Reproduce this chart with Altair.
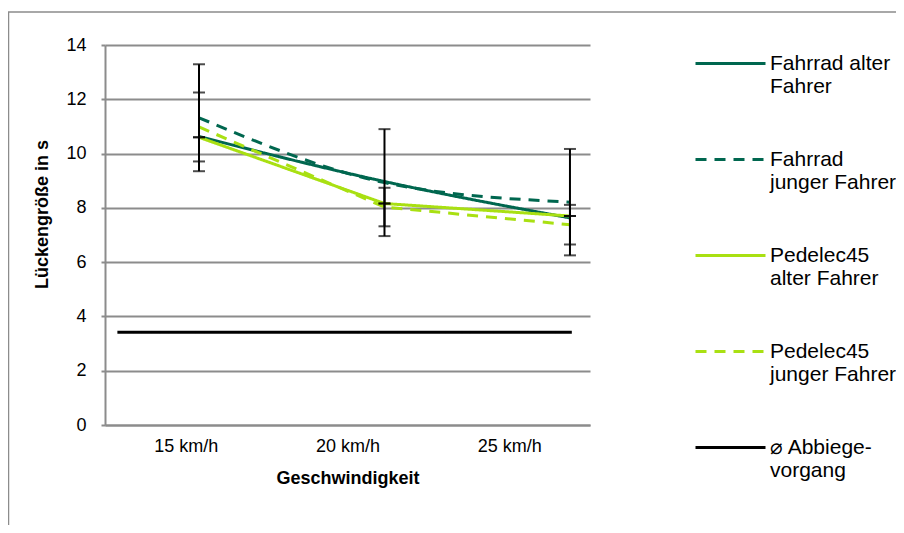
import altair as alt
import pandas as pd

# ---------------- data ----------------
speeds = [15, 20, 25]
speed_labels = ["15 km/h", "20 km/h", "25 km/h"]
series = [
    "Fahrrad alter|Fahrer",
    "Fahrrad|junger Fahrer",
    "Pedelec45|alter Fahrer",
    "Pedelec45|junger Fahrer",
    "⌀ Abbiege-|vorgang",
]
fahrrad_alt = [10.63, 8.97, 7.63]
fahrrad_jung = [11.32, 8.93, 8.21]
pedelec_alt = [10.60, 8.16, 7.70]
pedelec_jung = [10.98, 8.03, 7.38]
err_fahrrad_jung = [1.97, 1.97, 1.96]
err_pedelec_alt = [0.0, 0.0, 0.0]
err_pedelec_jung = [1.27, 0.71, 0.73]
abbiege_speed = [12.8, 25.05]
abbiege_value = [3.42, 3.42]

# ---------------- styles ----------------
DARK = "#00674F"
LIGHT = "#A9E012"
GRID = "#8c8c8c"
FONT = "Liberation Sans"
x_domain = [12.466, 25.54]
YT = "Lückengröße in s"

rows = []
for name, vals in zip(series[:4], [fahrrad_alt, fahrrad_jung, pedelec_alt, pedelec_jung]):
    for s, v in zip(speeds, vals):
        rows.append({"series": name, "speed": s, "value": v})
for s, v in zip(abbiege_speed, abbiege_value):
    rows.append({"series": series[4], "speed": s, "value": v})
lines = pd.DataFrame(rows)

err_rows = []
for name, vals, es in [
    (series[1], fahrrad_jung, err_fahrrad_jung),
    (series[2], pedelec_alt, err_pedelec_alt),
    (series[3], pedelec_jung, err_pedelec_jung),
]:
    for s, v, e in zip(speeds, vals, es):
        err_rows.append({"series": name, "speed": s, "low": v - e, "high": v + e})
errs = pd.DataFrame(err_rows)
caps = pd.concat([
    errs[["speed", "low"]].rename(columns={"low": "value"}),
    errs[["speed", "high"]].rename(columns={"high": "value"}),
])

yscale = alt.Scale(domain=[0, 14], nice=False, zero=True)
yaxis = alt.Axis(values=[0, 2, 4, 6, 8, 10, 12, 14], grid=True, tickSize=4,
                 labelPadding=15, titlePadding=14, titleY=169)
xq = alt.X("speed:Q", scale=alt.Scale(domain=x_domain, nice=False, zero=False), axis=None)

leg = alt.Legend(
    title=None, orient="none", legendX=589, legendY=-18,
    symbolType="stroke", symbolSize=4900, symbolStrokeWidth=3,
    labelFontSize=21, labelFont=FONT, labelColor="black", labelOffset=3,
    labelLimit=240, rowPadding=26, padding=0,
    labelExpr="split(datum.label, '|')", labelBaseline="middle",
)
color = alt.Color("series:N", scale=alt.Scale(domain=series, range=[DARK, DARK, LIGHT, LIGHT, "black"]), legend=leg)
dash = alt.StrokeDash("series:N", scale=alt.Scale(domain=series, range=[[1, 0], [11, 8], [1, 0], [11, 8], [1, 0]]), legend=leg)

base_y = alt.Y("value:Q", scale=yscale, axis=yaxis, title=YT)

fahrrad = alt.Chart(lines[lines.series.isin(series[:2])]).mark_line(
    strokeWidth=3, interpolate="monotone"
).encode(x=xq, y=base_y, color=color, strokeDash=dash, detail="series:N")

pedelec = alt.Chart(lines[lines.series.isin(series[2:4])]).mark_line(
    strokeWidth=3
).encode(x=xq, y=base_y, color=color, strokeDash=dash, detail="series:N")

abbiege = alt.Chart(lines[lines.series == series[4]]).mark_line(
    strokeWidth=3
).encode(x=xq, y=base_y, color=color, strokeDash=dash)

err_rule = alt.Chart(errs).mark_rule(color="black", strokeWidth=2).encode(
    x=xq, y=alt.Y("low:Q", scale=yscale, axis=yaxis, title=YT), y2="high:Q"
)
err_cap = alt.Chart(caps).mark_tick(color="black", orient="horizontal", size=12, thickness=2).encode(
    x=xq, y=base_y
)

inner = alt.layer(fahrrad, pedelec, abbiege, err_rule, err_cap)

label_layer = alt.Chart(pd.DataFrame({"label": speed_labels})).mark_point(opacity=0).encode(
    x=alt.X("label:N", sort=speed_labels, scale=alt.Scale(type="point", padding=0.5),
            axis=alt.Axis(title="Geschwindigkeit", ticks=False, labelAngle=0,
                          labelPadding=12, titlePadding=14))
)

frame = alt.Chart(alt.Data(values=[{}])).mark_rect(
    fill="transparent", stroke=GRID, strokeWidth=1.5
).encode(x=alt.value(-96.5), x2=alt.value(1200), y=alt.value(-33), y2=alt.value(1200))

chart = alt.layer(frame, label_layer, inner).resolve_scale(x="independent").properties(
    width=485, height=380,
    autosize=alt.AutoSizeParams(type="none"),
    padding={"left": 97, "top": 37, "right": 306, "bottom": 100},
).configure_view(stroke=None).configure_axis(
    labelFont=FONT, labelFontSize=18, labelColor="black",
    titleFont=FONT, titleFontSize=18, titleFontWeight="bold", titleColor="black",
    domainColor=GRID, domainWidth=2, gridColor=GRID, gridWidth=2,
    tickColor=GRID, tickWidth=2,
)

chart.save("out.html", embed_options={"renderer": "svg", "actions": False})
